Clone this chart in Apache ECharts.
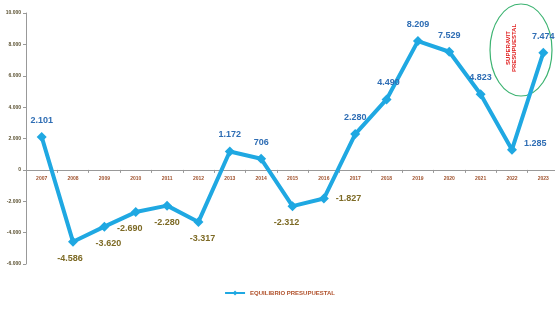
<!DOCTYPE html>
<html lang="es" style="height: 100%">
<head>
  <meta charset="utf-8">
</head>
<body style="height: 100%; margin: 0; overflow: hidden">
  <div id="container" style="width: 559px; height: 309px"></div>

  <script type="text/javascript" src="https://fastly.jsdelivr.net/npm/echarts@6/dist/echarts.min.js"></script>
  <script type="text/javascript">
    // datos del gráfico
    var years = ['2007', '2008', '2009', '2010', '2011', '2012', '2013', '2014', '2015',
                 '2016', '2017', '2018', '2019', '2020', '2021', '2022', '2023'];
    var equilibrio = [2101, -4586, -3620, -2690, -2280, -3317, 1172, 706, -2312,
                      -1827, 2280, 4490, 8209, 7529, 4823, 1285, 7474];
    var seriesName = 'EQUILIBRIO PRESUPUESTAL';

    var dom = document.getElementById('container');
    var myChart = echarts.init(dom, null, { renderer: 'canvas' });

    // miles con punto
    function fmt(v) {
      var s = Math.abs(v).toString().replace(/\B(?=(\d{3})+(?!\d))/g, '.');
      return (v < 0 ? '-' : '') + s;
    }

    var points = equilibrio.map(function (v, i) {
      var lbl = {
        position: v >= 0 ? 'top' : 'bottom',
        color: v >= 0 ? '#2e6db4' : '#7d6a25'
      };
      if (i === 9) { lbl.position = 'right'; }
      if (i === 2 || i === 5) { lbl.offset = [4, 0]; }
      if (i === 3 || i === 8) { lbl.offset = [-6, 0]; }
      if (i === 1) { lbl.offset = [-3, 0]; }
      if (i === 11) { lbl.offset = [2, 0]; }
      if (i === 15) { lbl.position = 'right'; lbl.offset = [0, -6]; }
      return { value: v, label: lbl };
    });

    // grid: top 13, bottom 45 -> alto 251, el cero queda a 94 px del fondo
    var gridTop = 13, gridBottom = 45, gridH = 309 - gridTop - gridBottom;
    var zeroOffset = -gridH * 6000 / 16000;

    var option = {
      animation: false,
      grid: { left: 26, right: 0, top: gridTop, bottom: gridBottom },
      legend: {
        bottom: 8,
        left: 'center',
        itemWidth: 20,
        itemHeight: 6,
        itemGap: 2,
        textStyle: { fontSize: 6, color: '#b0502a', fontFamily: 'Liberation Sans', fontWeight: 'bold' },
        data: [seriesName]
      },
      xAxis: {
        type: 'category',
        data: years,
        offset: zeroOffset,
        axisLine: { onZero: false, lineStyle: { color: '#999', width: 1 } },
        axisTick: { show: true, length: 3, lineStyle: { color: '#999' } },
        axisLabel: { fontSize: 5, color: '#a0522d', margin: 6, fontFamily: 'Liberation Sans', fontWeight: 'bold' }
      },
      yAxis: {
        type: 'value',
        min: -6000,
        max: 10000,
        interval: 2000,
        splitLine: { show: false },
        axisLine: { show: true, lineStyle: { color: '#999' } },
        axisTick: { show: true, length: 3, lineStyle: { color: '#999' } },
        axisLabel: {
          fontSize: 5, color: '#5a5030', margin: 5, fontFamily: 'Liberation Sans', fontWeight: 'bold',
          formatter: function (v) { return fmt(v); }
        }
      },
      series: [{
        name: seriesName,
        type: 'line',
        data: points,
        symbol: 'diamond',
        symbolSize: 10,
        lineStyle: { color: '#1fa8e2', width: 4 },
        itemStyle: { color: '#1fa8e2' },
        label: {
          show: true,
          fontSize: 9,
          fontWeight: 'bold',
          fontFamily: 'Liberation Sans',
          distance: 7,
          formatter: function (p) { return fmt(p.value); }
        }
      }],
      graphic: [
        {
          type: 'ellipse',
          shape: { cx: 521, cy: 50, rx: 31, ry: 46 },
          style: { fill: 'none', stroke: '#3cb371', lineWidth: 1.2 }
        },
        {
          type: 'text',
          x: 511,
          y: 48,
          rotation: Math.PI / 2,
          style: {
            text: 'SUPERAVIT\nPRESUPUESTAL',
            fill: '#e02020',
            fontSize: 6,
            fontWeight: 'bold',
            fontFamily: 'Liberation Sans',
            align: 'center',
            verticalAlign: 'middle',
            lineHeight: 6
          }
        }
      ]
    };

    myChart.setOption(option);
    window.addEventListener('resize', myChart.resize);
  </script>
</body>
</html>
